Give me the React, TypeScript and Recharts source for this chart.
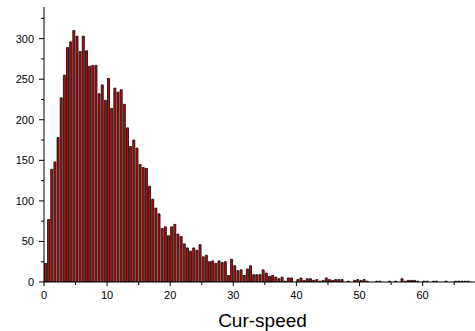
import React from 'react';
import { BarChart, Bar, XAxis, YAxis } from 'recharts';

// Histogram of Cur-speed, bin width 0.5, bins starting at 0
const BIN_WIDTH = 0.5;
const counts: number[] = [
  23, 77, 139, 148, 178, 227, 255, 289, 296, 310,
  303, 284, 303, 285, 266, 267, 267, 232, 243, 224,
  251, 214, 239, 234, 237, 219, 190, 167, 175, 165,
  145, 141, 140, 118, 102, 91, 84, 66, 68, 57,
  68, 71, 59, 56, 47, 42, 38, 42, 39, 46,
  31, 33, 25, 26, 23, 26, 24, 25, 8, 28,
  20, 14, 15, 8, 16, 20, 9, 9, 9, 15,
  11, 7, 8, 6, 4, 6, 1, 5, 5, 0,
  3, 5, 2, 4, 4, 2, 3, 1, 2, 5,
  3, 2, 3, 3, 3, 0, 1, 0, 2, 3,
  2, 3, 1, 0, 0, 1, 1, 0, 0, 1,
  0, 1, 0, 4, 1, 2, 2, 2, 1, 0,
  1, 1, 0, 1, 1, 0, 0, 1, 0, 0,
  1, 1, 1, 1, 1, 0,
];
const xTicks: number[] = [0, 5, 10, 15, 20, 25, 30, 35, 40, 45, 50, 55, 60, 65];
const xLabelTicks: number[] = [0, 10, 20, 30, 40, 50, 60];
const yTicks: number[] = [0, 25, 50, 75, 100, 125, 150, 175, 200, 225, 250, 275, 300, 325];
const yLabelTicks: number[] = [0, 50, 100, 150, 200, 250, 300];
const xTitle = 'Cur-speed';

const data = counts.map((c, i) => ({ x: i * BIN_WIDTH + BIN_WIDTH / 2, count: c }));

const FONT = '"Liberation Sans", Arial, sans-serif';

const YTick = (props: any) => {
  const { y, payload } = props;
  const major = yLabelTicks.includes(payload.value);
  const ax = 44;
  return (
    <g>
      <line x1={ax} x2={ax - (major ? 5 : 3)} y1={y} y2={y} stroke="#000" strokeWidth={1} />
      {major && (
        <text x={ax - 10} y={y} dy="0.36em" textAnchor="end" fontSize={11} fontFamily={FONT} fill="#000">
          {payload.value}
        </text>
      )}
    </g>
  );
};

const XTick = (props: any) => {
  const { x, payload } = props;
  const major = xLabelTicks.includes(payload.value);
  const ay = 282;
  return (
    <g>
      <line x1={x} x2={x} y1={ay} y2={ay + (major ? 4 : 3)} stroke="#000" strokeWidth={1} />
      {major && (
        <text x={x} y={ay + 17} textAnchor="middle" fontSize={11} fontFamily={FONT} fill="#000">
          {payload.value}
        </text>
      )}
    </g>
  );
};

export default function App() {
  return (
    <div style={{ position: 'absolute', left: 0, top: 0, background: '#fff' }}>
      <BarChart
        width={475}
        height={331}
        data={data}
        margin={{ top: 7, right: 0, bottom: 0, left: 0 }}
        barCategoryGap="14%"
        barGap={0}
      >
        <XAxis
          dataKey="x"
          type="number"
          domain={[0, 68.3]}
          ticks={xTicks}
          interval={0}
          height={49}
          axisLine={{ stroke: '#000', strokeWidth: 1 }}
          tickLine={false}
          tick={<XTick />}
          allowDataOverflow
          label={{ value: xTitle, position: 'insideBottom', offset: 4, fontSize: 19, fill: '#000', fontFamily: FONT, dx: 3 }}
        />
        <YAxis
          type="number"
          domain={[0, 339]}
          ticks={yTicks}
          interval={0}
          width={44}
          axisLine={{ stroke: '#000', strokeWidth: 1 }}
          tickLine={false}
          tick={<YTick />}
          allowDataOverflow
        />
        <Bar dataKey="count" fill="#e00000" stroke="#111" strokeWidth={0.9} isAnimationActive={false} />
      </BarChart>
    </div>
  );
}
